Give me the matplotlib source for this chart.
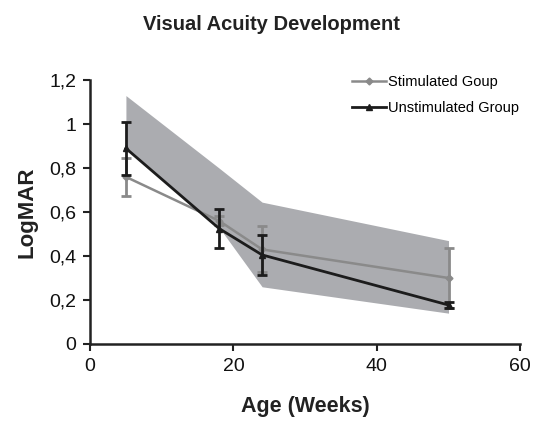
import numpy as np
import matplotlib.pyplot as plt
from matplotlib.lines import Line2D

plt.rcParams['font.family'] = ['Liberation Sans', 'DejaVu Sans']

weeks = [5, 18, 24, 50]
stim_mean = [0.76, 0.56, 0.43, 0.30]
stim_err = [0.085, 0.02, 0.105, 0.135]
unstim_mean = [0.89, 0.525, 0.405, 0.177]
unstim_err = [0.12, 0.087, 0.09, 0.012]
band_upper = [1.13, 0.80, 0.645, 0.47]
band_lower = [0.89, 0.53, 0.26, 0.14]

stim_color = '#8a8a8a'
unstim_color = '#1c1c1c'

fig = plt.figure(figsize=(5.33, 4.22), dpi=100)
ax = fig.add_axes([0.169, 0.185, 0.807, 0.625])

ax.fill_between(weeks, band_lower, band_upper, color='#abacb0', lw=0, zorder=1)

ax.errorbar(weeks, stim_mean, yerr=stim_err, color=stim_color, lw=1.8,
            marker='D', ms=3.5, capsize=3.5, capthick=2, elinewidth=2, zorder=3)
ax.errorbar(weeks, unstim_mean, yerr=unstim_err, color=unstim_color, lw=2,
            marker='^', ms=5, capsize=3.5, capthick=2, elinewidth=2, zorder=4)

ax.set_xlim(0, 60)
ax.set_ylim(0, 1.2)
ax.set_xticks([0, 20, 40, 60])
ax.set_yticks([0, 0.2, 0.4, 0.6, 0.8, 1.0, 1.2])
ax.set_yticklabels(['0', '0,2', '0,4', '0,6', '0,8', '1', '1,2'])
ax.tick_params(labelsize=14, length=5, width=1.5, color='#222222',
               labelcolor='#111111', pad=5)
for s in ['top', 'right']:
    ax.spines[s].set_visible(False)
for s in ['left', 'bottom']:
    ax.spines[s].set_linewidth(1.8)
    ax.spines[s].set_color('#222222')

ax.set_xlabel('Age (Weeks)', fontsize=15.5, fontweight='bold', labelpad=15,
              color='#222222')
ax.set_ylabel('LogMAR', fontsize=16, fontweight='bold', labelpad=8,
              color='#222222')
fig.text(0.51, 0.942, 'Visual Acuity Development', ha='center', va='center',
         fontsize=14.5, fontweight='bold', color='#222222')

handles = [Line2D([], [], color=stim_color, lw=1.8, marker='D', ms=3.5),
           Line2D([], [], color=unstim_color, lw=2, marker='^', ms=5)]
labels = ['Stimulated Goup', 'Unstimulated Group']
ax.legend(handles, labels, loc='upper left', bbox_to_anchor=(0.609, 1.019),
          frameon=False, fontsize=10.5, handlelength=2.3, handletextpad=0.15,
          labelspacing=0.8, borderpad=0, borderaxespad=0)

fig.savefig('out.png', dpi=100)
